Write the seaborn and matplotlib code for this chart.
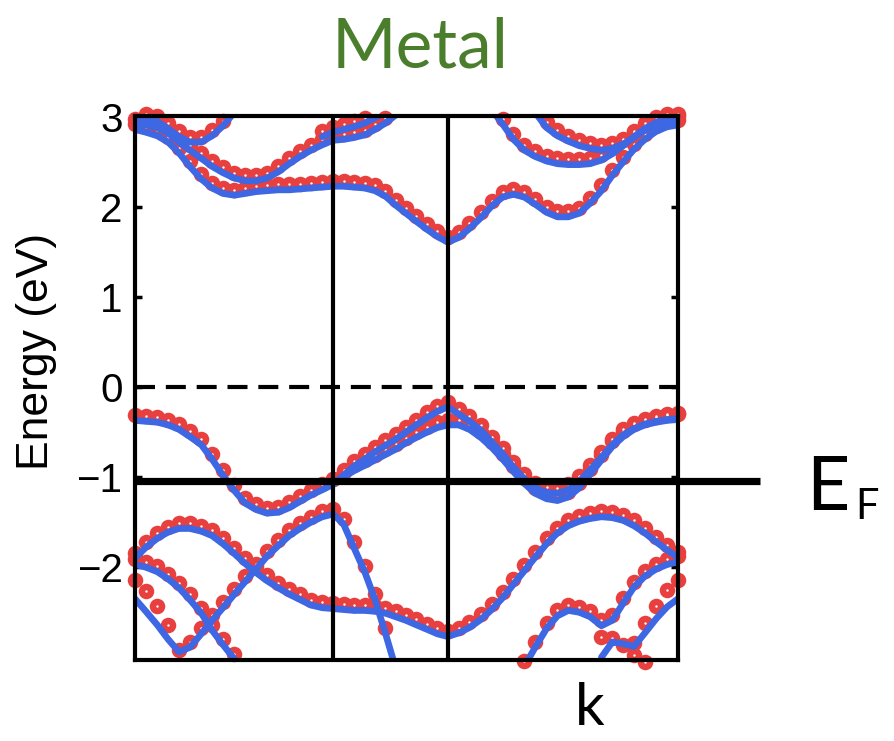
import numpy as np
import pandas as pd
import matplotlib
matplotlib.use("Agg")
import matplotlib.pyplot as plt
import seaborn as sns

# ---------------- data ----------------
# k-path positions (fraction of path); high-symmetry lines at 0.365 and 0.576
K = [0.000, 0.020, 0.041, 0.061, 0.081, 0.101, 0.122, 0.142, 0.162, 0.183,
     0.203, 0.223, 0.243, 0.264, 0.284, 0.304, 0.324, 0.345, 0.365,
     0.384, 0.403, 0.423, 0.442, 0.461, 0.480, 0.499, 0.518, 0.538, 0.557, 0.576,
     0.596, 0.616, 0.637, 0.657, 0.677, 0.697, 0.717, 0.737, 0.758, 0.778,
     0.798, 0.818, 0.838, 0.859, 0.879, 0.899, 0.919, 0.939, 0.960, 0.980, 1.000]
K_SYM = [0.365, 0.576]
Y_TICKS = [-2, -1, 0, 1, 2, 3]
FERMI_MARK = -1.04

# each band: (first k index, energies in eV) -- fitted (blue) bands
V1a = (0, [-0.37, -0.38, -0.39, -0.42, -0.47, -0.55, -0.64, -0.80, -0.98, -1.15,
           -1.29, -1.36, -1.40, -1.39, -1.34, -1.27, -1.20, -1.14, -1.08,
           -0.98, -0.88, -0.80, -0.72, -0.65, -0.58, -0.50, -0.42, -0.34, -0.27, -0.22,
           -0.30, -0.38, -0.48, -0.61, -0.74, -0.89, -1.02, -1.12, -1.17, -1.18,
           -1.14, -1.05, -0.92, -0.78, -0.64, -0.53, -0.46, -0.41, -0.38, -0.36, -0.35])
V1b = (18, [-1.08, -1.00, -0.93, -0.87, -0.81, -0.75, -0.69, -0.62, -0.56, -0.50, -0.45, -0.42,
            -0.42, -0.47, -0.56, -0.67, -0.80, -0.94, -1.07, -1.18, -1.24, -1.26,
            -1.22, -1.12, -0.97, -0.81, -0.66, -0.55, -0.47, -0.42, -0.39, -0.37, -0.36])
V2 = (0, [-1.90, -1.78, -1.68, -1.61, -1.57, -1.57, -1.60, -1.65, -1.74, -1.85,
          -1.96, -2.06, -2.15, -2.23, -2.30, -2.36, -2.42, -2.45, -2.46,
          -2.47, -2.48, -2.48, -2.49, -2.51, -2.55, -2.59, -2.64, -2.69, -2.74, -2.77,
          -2.73, -2.67, -2.58, -2.47, -2.34, -2.19, -2.04, -1.89, -1.74, -1.62,
          -1.54, -1.49, -1.46, -1.44, -1.45, -1.48, -1.54, -1.62, -1.72, -1.81, -1.89])
V3 = (0, [-2.35, -2.49, -2.64, -2.80, -2.94, -2.89, -2.74, -2.59, -2.45, -2.30,
          -2.16, -2.02, -1.88, -1.76, -1.65, -1.57, -1.50, -1.44, -1.41,
          -1.52, -1.78, -2.05, -2.36, -2.73, -3.12])
V4 = (0, [-1.97, -2.00, -2.05, -2.13, -2.23, -2.36, -2.51, -2.70, -2.86, -3.02, -3.20])
V5 = (36, [-3.10, -2.89, -2.68, -2.54, -2.48, -2.50, -2.55, -2.65, -2.59, -2.40,
           -2.22, -2.10, -2.02, -1.97, -1.94])
V6 = (43, [-3.00, -2.83, -2.85, -2.88, -2.73, -2.57, -2.44, -2.35])
C1 = (0, [2.86, 2.83, 2.79, 2.72, 2.60, 2.45, 2.31, 2.21, 2.15, 2.13,
          2.15, 2.17, 2.18, 2.19, 2.19, 2.20, 2.21, 2.22, 2.23,
          2.23, 2.22, 2.21, 2.18, 2.12, 2.02, 1.93, 1.84, 1.75, 1.67, 1.61,
          1.66, 1.76, 1.88, 2.01, 2.11, 2.14, 2.11, 2.03, 1.94, 1.89,
          1.89, 1.93, 2.04, 2.18, 2.35, 2.50, 2.64, 2.75, 2.84, 2.89, 2.91])
C2 = (0, [2.92, 2.91, 2.88, 2.82, 2.72, 2.63, 2.54, 2.45, 2.38, 2.32,
          2.29, 2.29, 2.32, 2.39, 2.48, 2.56, 2.63, 2.69, 2.74,
          2.75, 2.77, 2.80, 2.86, 2.93, 3.02])
C3 = (0, [2.98, 2.97, 2.95, 2.87, 2.78, 2.72, 2.72, 2.79, 2.90, 3.05])
C4 = (17, [2.78, 2.83, 2.86, 2.89, 2.93, 2.99, 3.05])
C5 = (33, [3.08, 2.92, 2.75, 2.63, 2.56, 2.51, 2.48, 2.47, 2.47, 2.48,
           2.52, 2.59, 2.68, 2.78, 2.87, 2.94, 2.97, 2.97])
C6 = (37, [3.05, 2.88, 2.79, 2.73, 2.68, 2.65, 2.63, 2.65, 2.70, 2.77,
           2.85, 2.91, 2.94, 2.95])

BANDS = {"V1a": V1a, "V1b": V1b, "V2": V2, "V3": V3, "V4": V4, "V5": V5, "V6": V6,
         "C1": C1, "C2": C2, "C3": C3, "C4": C4, "C5": C5, "C6": C6}

# DFT points (red) that deviate from the fitted bands
V3_RED_LEFT = (0, [-2.14, -2.26, -2.43, -2.64, -2.92])
R1 = (43, [-2.78, -2.79, -2.86, -2.98, -3.05])
R2 = (46, [-2.84, -2.62, -2.43, -2.25, -2.14])

# ---------------- style ----------------
BLUE = "#3d67e3"
RED = "#e8403f"
GREEN = "#4a7d2c"
RED_SHIFT = 0.06
YLIM = (-3.03, 3.01)

sns.set_style("white")
plt.rcParams["font.family"] = ["Liberation Sans", "DejaVu Sans"]
plt.rcParams["text.color"] = "black"
plt.rcParams["axes.labelcolor"] = "black"

fig = plt.figure(figsize=(8.95, 7.41), dpi=100)
ax = fig.add_axes([135 / 895, 1 - 660 / 741, 543 / 895, 544 / 741])


def rows(name, start, vals):
    return [{"k": K[start + j], "E": v, "band": name} for j, v in enumerate(vals)]


blue_rows = []
for name, (s, v) in BANDS.items():
    blue_rows += rows(name, s, v)
df_blue = pd.DataFrame(blue_rows)

red_rows = []
for name, (s, v) in BANDS.items():
    if name == "V6":
        continue
    if name == "V3":
        ls, lv = V3_RED_LEFT
        red_rows += rows(name, ls, lv)
        red_rows += rows(name, s + len(lv), [e + RED_SHIFT for e in v[len(lv):]])
        continue
    red_rows += rows(name, s, [e + RED_SHIFT for e in v])
red_rows += rows("R1", *R1)
red_rows += rows("R2", *R2)
df_red = pd.DataFrame(red_rows)
df_red = df_red[(df_red["E"] >= YLIM[0] - 0.03) & (df_red["E"] <= YLIM[1] + 0.03)]

sns.scatterplot(data=df_red, x="k", y="E", color=RED, s=125, linewidth=0,
                ax=ax, zorder=3, clip_on=False, legend=False)
sns.scatterplot(data=df_red, x="k", y="E", color="white", s=3, linewidth=0,
                ax=ax, zorder=3.2, clip_on=False, legend=False)
sns.lineplot(data=df_blue, x="k", y="E", units="band", estimator=None, sort=False,
             color=BLUE, lw=4.8, ax=ax, legend=False, zorder=4,
             solid_capstyle="round")

for k in K_SYM:
    ax.axvline(k, color="black", lw=3, zorder=5)
ax.axhline(0, color="black", lw=3, dashes=(4.8, 2.6), zorder=5)
ax.plot([0, 1.151], [FERMI_MARK, FERMI_MARK], color="black", lw=5.2,
        clip_on=False, zorder=6, solid_capstyle="butt")

ax.set_xlim(0, 1)
ax.set_ylim(*YLIM)
ax.set_yticks(Y_TICKS)
ax.set_xticks([])
ax.tick_params(axis="y", direction="in", length=5, width=2.5, left=True, right=True,
               labelsize=29, pad=9, colors="black")
for sp in ax.spines.values():
    sp.set_visible(True)
    sp.set_color("black")
    sp.set_linewidth(3)
    sp.set_zorder(5)

ax.set_ylabel("Energy (eV)", fontsize=32, va="center", color="black")
ax.yaxis.set_label_coords(-0.182, 0.568)
ax.set_xlabel("k", fontsize=42, family=["Lato", "DejaVu Sans"], va="baseline",
              color="black")
ax.xaxis.set_label_coords(0.838, -0.12)

fig.text(0.469, 1 - 68 / 741, "Metal", ha="center", va="baseline", color=GREEN,
         fontsize=50, family=["Lato", "DejaVu Sans"])
fig.text(806 / 895, 1 - 510 / 741, "E", ha="left", va="baseline", color="black",
         fontsize=54, family=["Lato", "DejaVu Sans"])
fig.text(855 / 895, 1 - 519 / 741, "F", ha="left", va="baseline", color="black",
         fontsize=30, family=["Lato", "DejaVu Sans"])

fig.savefig("out.png", dpi=100)
